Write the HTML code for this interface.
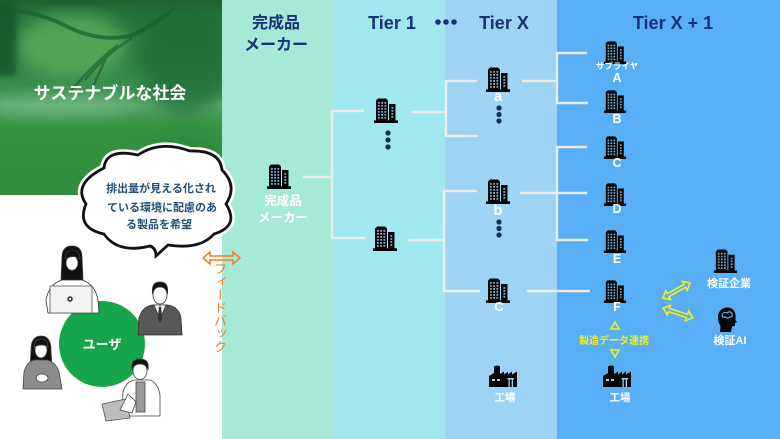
<!DOCTYPE html>
<html><head><meta charset="utf-8">
<style>
html,body{margin:0;padding:0;}
body{width:780px;height:439px;overflow:hidden;position:relative;background:#fff;font-family:"Liberation Sans","Noto Sans CJK JP",sans-serif;}
svg{position:absolute;left:0;top:0;}
.vt{position:absolute;left:212px;top:262px;width:15px;writing-mode:vertical-rl;font-size:13px;line-height:15px;color:#f07d1e;font-family:"Liberation Sans","Noto Sans CJK JP",sans-serif;}
</style></head><body>
<svg width="780" height="439" viewBox="0 0 780 439" font-family="'Liberation Sans','Noto Sans CJK JP',sans-serif">
<defs>
 <symbol id="bld" viewBox="0 0 26 26">
  <path d="M3 24V3.5L5 1.5h8l2 2V24z" fill="#060606"/>
  <rect x="16" y="7" width="6.5" height="17" fill="#060606"/>
  <rect x="1" y="23.3" width="24" height="2.7" fill="#060606"/>
  <g fill="#7fa9c8">
   <rect x="5" y="5" width="1.8" height="1.8"/><rect x="8.2" y="5" width="1.8" height="1.8"/><rect x="11.4" y="5" width="1.8" height="1.8"/>
   <rect x="5" y="8" width="1.8" height="1.8"/><rect x="8.2" y="8" width="1.8" height="1.8"/><rect x="11.4" y="8" width="1.8" height="1.8"/>
   <rect x="5" y="11" width="1.8" height="1.8"/><rect x="8.2" y="11" width="1.8" height="1.8"/><rect x="11.4" y="11" width="1.8" height="1.8"/>
   <rect x="5" y="14" width="1.8" height="1.8"/><rect x="8.2" y="14" width="1.8" height="1.8"/><rect x="11.4" y="14" width="1.8" height="1.8"/>
   <rect x="5" y="17" width="1.8" height="1.8"/><rect x="8.2" y="17" width="1.8" height="1.8"/><rect x="11.4" y="17" width="1.8" height="1.8"/>
   <rect x="5" y="20" width="1.8" height="1.8"/><rect x="8.2" y="20" width="1.8" height="1.8"/><rect x="11.4" y="20" width="1.8" height="1.8"/>
   <rect x="18.4" y="10" width="1.8" height="1.8"/><rect x="18.4" y="13" width="1.8" height="1.8"/><rect x="18.4" y="16" width="1.8" height="1.8"/><rect x="18.4" y="19" width="1.8" height="1.8"/>
  </g>
 </symbol>
 <symbol id="fac" viewBox="0 0 28 22">
  <path d="M0 22V11L5 8V1.5Q8 -0.5 11 1.5V9L15 6.5V9.5L19 6.5V9.5L23 6.5V9.5L28 6.5V22Z" fill="#060606"/>
  <rect x="3" y="14" width="3" height="2" fill="#9fd3f3"/><rect x="8" y="14" width="3" height="2" fill="#9fd3f3"/>
  <rect x="18.5" y="13" width="6.5" height="1.5" fill="#9fd3f3"/>
  <rect x="19.5" y="14.5" width="1.3" height="7.5" fill="#9fd3f3"/><rect x="22.7" y="14.5" width="1.3" height="7.5" fill="#9fd3f3"/>
 </symbol>
 <clipPath id="pc"><rect x="0" y="0" width="222" height="195"/></clipPath>
 <linearGradient id="fg" x1="0" y1="0" x2="0" y2="1">
  <stop offset="0" stop-color="#1f6e37"/>
  <stop offset="0.3" stop-color="#2c8142"/>
  <stop offset="0.46" stop-color="#3a914e"/>
  <stop offset="0.54" stop-color="#5aa86b"/>
  <stop offset="0.62" stop-color="#3a9648"/>
  <stop offset="1" stop-color="#318e3e"/>
 </linearGradient>
 <filter id="bl" x="-50%" y="-50%" width="200%" height="200%"><feGaussianBlur stdDeviation="8"/></filter>
 <filter id="bl2" x="-50%" y="-50%" width="200%" height="200%"><feGaussianBlur stdDeviation="3"/></filter>
</defs>

<!-- columns -->
<rect x="222" y="0" width="111" height="439" fill="#a7e9d7"/>
<rect x="333" y="0" width="112" height="439" fill="#a0e7f0"/>
<rect x="445" y="0" width="112" height="439" fill="#9fd3f3"/>
<rect x="557" y="0" width="223" height="439" fill="#58aff5"/>

<!-- photo -->
<g clip-path="url(#pc)">
 <rect x="0" y="0" width="222" height="195" fill="url(#fg)"/>
 <ellipse cx="72" cy="45" rx="55" ry="32" fill="#62b05e" opacity="0.75" filter="url(#bl)"/>
 <ellipse cx="185" cy="60" rx="45" ry="55" fill="#1d6d36" opacity="0.7" filter="url(#bl)"/>
 <rect x="-4" y="-4" width="20" height="80" fill="#17572a" opacity="0.85" filter="url(#bl2)"/>
 <rect x="0" y="-4" width="222" height="10" fill="#1a5e2f" opacity="0.8" filter="url(#bl2)"/>
 <ellipse cx="60" cy="106" rx="70" ry="10" fill="#7fc293" opacity="0.55" filter="url(#bl)"/>
 <path d="M10 10 Q40 12 70 28 Q100 42 130 36 Q150 28 175 8" stroke="#1a5e2e" stroke-width="4" fill="none" opacity="0.7"/>
 <path d="M132 38 Q105 55 85 80 M118 45 Q95 62 70 92 M110 50 Q100 70 92 90" stroke="#1a5e2e" stroke-width="2.5" fill="none" opacity="0.65"/>
 <rect x="0" y="125" width="222" height="70" fill="#2f8c3c" opacity="0.35"/>
 <ellipse cx="180" cy="165" rx="40" ry="25" fill="#256f33" opacity="0.4" filter="url(#bl)"/>
 <text x="110" y="99" text-anchor="middle" font-size="17" font-weight="bold" fill="#fff">サステナブルな社会</text>
</g>

<!-- headers -->
<g fill="#1b2f7a" font-weight="bold" text-anchor="middle">
 <text x="276" y="28" font-size="16">完成品</text>
 <text x="276" y="50" font-size="16">メーカー</text>
 <text x="392" y="29" font-size="18">Tier 1</text>
 <text x="504" y="29" font-size="18">Tier X</text>
 <text x="673" y="29" font-size="18">Tier X + 1</text>
</g>
<g fill="#1b2f7a"><circle cx="438" cy="22" r="2.8"/><circle cx="446" cy="22" r="2.8"/><circle cx="454" cy="22" r="2.8"/></g>

<!-- connectors -->
<g stroke="#ececec" stroke-width="2.5" fill="none">
 <path d="M303 177H332M364 111H332V238H366"/>
 <path d="M412 112H446M477 81H446V136H478"/>
 <path d="M408 240H444M477 191H444V291H480"/>
 <path d="M522 81H557M587 53H557V103H588"/>
 <path d="M520 193H587M587 147H557V240H588"/>
 <path d="M527 291H590"/>
</g>

<!-- buildings -->
<use href="#bld" x="266" y="163" width="26" height="26"/>
<use href="#bld" x="373" y="97" width="26" height="26"/>
<use href="#bld" x="372" y="225" width="26" height="26"/>
<use href="#bld" x="485" y="66" width="26" height="26"/>
<use href="#bld" x="485" y="178" width="26" height="26"/>
<use href="#bld" x="485" y="277" width="26" height="26"/>
<use href="#bld" x="603" y="40" width="24" height="24"/>
<use href="#bld" x="603" y="89" width="24" height="24"/>
<use href="#bld" x="603" y="135" width="24" height="24"/>
<use href="#bld" x="603" y="182" width="24" height="24"/>
<use href="#bld" x="603" y="229" width="24" height="24"/>
<use href="#bld" x="603" y="279" width="24" height="24"/>
<use href="#bld" x="713" y="248" width="25" height="25"/>
<use href="#fac" x="489" y="365" width="28" height="22"/>
<use href="#fac" x="603" y="365" width="28" height="22"/>

<!-- dots -->
<g fill="#17304f">
 <circle cx="388" cy="133" r="2.6"/><circle cx="388" cy="140" r="2.6"/><circle cx="388" cy="147" r="2.6"/>
 <circle cx="499" cy="108" r="2.6"/><circle cx="499" cy="114.5" r="2.6"/><circle cx="499" cy="121" r="2.6"/>
 <circle cx="499" cy="222" r="2.6"/><circle cx="499" cy="228.5" r="2.6"/><circle cx="499" cy="235" r="2.6"/>
</g>

<!-- head icon -->
<g transform="translate(716,307)">
 <path d="M2 10C2 3 8 0 12 0.5C17 1 20 5 19.5 10L19.5 13L21 15L19 16L19 19L16 19.5L15 25L4 25L4.5 19C2.5 16 2 13 2 10Z" fill="#060606"/>
 <path d="M6 8Q8 4 11 6Q14 3 16 7Q17 10 14 10Q12 12 9 10Q6 11 6 8Z" fill="none" stroke="#58aff5" stroke-width="1.2"/>
</g>

<!-- labels white -->
<g fill="#fff" font-weight="bold" text-anchor="middle">
 <text x="283" y="205" font-size="12.5">完成品</text>
 <text x="283" y="222" font-size="12.5">メーカー</text>
 <text x="498" y="101" font-size="15">a</text>
 <text x="498" y="215" font-size="15">b</text>
 <text x="499" y="311" font-size="13">C</text>
 <text x="617" y="69" font-size="8.5">サプライヤ</text>
 <text x="617" y="82" font-size="12.5">A</text>
 <text x="617" y="123" font-size="12.5">B</text>
 <text x="617" y="167" font-size="12.5">C</text>
 <text x="617" y="213" font-size="12.5">D</text>
 <text x="617" y="263" font-size="12.5">E</text>
 <text x="617" y="311" font-size="12.5">F</text>
 <text x="505" y="401" font-size="10.5">工場</text>
 <text x="620" y="401" font-size="10.5">工場</text>
 <text x="729" y="287" font-size="11">検証企業</text>
 <text x="730" y="344" font-size="11">検証AI</text>
</g>

<!-- yellow -->
<g fill="none" stroke="#f2ef1e" stroke-width="1.6" stroke-linejoin="miter">
 <polygon points="615,322 619,329 611,329"/>
 <polygon points="615,357 619,350 611,350"/>
 <polygon transform="translate(676.5,290.5) rotate(-29)" points="-15.5,0 -9.5,-5 -9.5,-1.6 9.5,-1.6 9.5,-5 15.5,0 9.5,5 9.5,1.6 -9.5,1.6 -9.5,5"/>
 <polygon transform="translate(678,313) rotate(18)" points="-15.5,0 -9.5,-5 -9.5,-1.6 9.5,-1.6 9.5,-5 15.5,0 9.5,5 9.5,1.6 -9.5,1.6 -9.5,5"/>
</g>
<text x="614" y="344" text-anchor="middle" font-size="10" font-weight="bold" fill="#f2ef1e">製造データ連携</text>

<!-- orange arrow -->
<polygon points="203,258 210,252 210,256 233,256 233,252 240,258 233,264 233,260 210,260 210,264" fill="none" stroke="#f07d1e" stroke-width="1.5"/>

<!-- cloud -->
<path d="M104 168Q106 148 138 155Q160 140 190 151Q220 150 222 170Q238 186 226 204Q240 226 214 234Q200 250 168 245L156 256Q156 248 150 246Q118 254 104 234Q76 228 86 204Q72 184 104 168Z" fill="#fff" stroke="#fff" stroke-width="8"/>
<path d="M104 168Q106 148 138 155Q160 140 190 151Q220 150 222 170Q238 186 226 204Q240 226 214 234Q200 250 168 245L156 256Q156 248 150 246Q118 254 104 234Q76 228 86 204Q72 184 104 168Z" fill="#fff" stroke="#111" stroke-width="2.8"/>
<g fill="#1f4e79" font-weight="bold" font-size="11" text-anchor="middle">
 <text x="161" y="192">排出量が見える化され</text>
 <text x="162" y="211">ている環境に配慮のあ</text>
 <text x="159" y="228">る製品を希望</text>
</g>

<!-- users circle -->
<circle cx="102" cy="344" r="43" fill="#17a54b"/>
<text x="102" y="349" text-anchor="middle" font-size="13" font-weight="bold" fill="#fff">ユーザ</text>

<!-- woman 1 with laptop -->
<g stroke="#333" stroke-width="0.8">
 <path d="M62 258Q62 246 72 246Q82 246 82 258L83 281L61 281Z" fill="#111"/>
 <path d="M48 313L46 300Q49 284 62 280L82 280Q95 284 98 300L99 313Z" fill="#fff"/>
 <ellipse cx="72" cy="263" rx="6" ry="7.5" fill="#fff"/>
 <path d="M65 259Q66 250 73 250Q80 251 80 259Q74 254 65 259Z" fill="#111"/>
 <rect x="50" y="286" width="42" height="27" fill="#f3f3f3" stroke="#555"/>
 <circle cx="70" cy="299" r="2" fill="none" stroke="#333" stroke-width="1.5"/>
</g>

<!-- man in suit -->
<g stroke="#333" stroke-width="0.8">
 <path d="M138 335L139 318Q142 307 152 305L168 305Q179 307 181 318L182 335Z" fill="#585858"/>
 <path d="M154 305L160 319L166 305Z" fill="#fff"/>
 <path d="M159.2 307L160.8 307L161.6 319L160 322L158.4 319Z" fill="#333"/>
 <ellipse cx="160" cy="295" rx="7" ry="9" fill="#fff"/>
 <path d="M152.5 294Q151 282 160 282Q169 282 167.5 294Q166 287 160 287Q154 287 152.5 294Z" fill="#111"/>
</g>

<!-- woman 2 -->
<g stroke="#444" stroke-width="0.8">
 <path d="M31 350Q31 336 41 336Q51 336 51 350L52 368L30 368Z" fill="#111"/>
 <path d="M23 389L24 372Q27 361 35 360L47 360Q56 362 59 372L62 389Z" fill="#8c8c8c"/>
 <ellipse cx="41" cy="350" rx="6" ry="8" fill="#fff"/>
 <path d="M34 347Q35 339 42 339Q48 340 48 347Q42 343 34 347Z" fill="#111"/>
 <ellipse cx="42" cy="378" rx="6" ry="4" fill="#fff"/>
</g>

<!-- man 2 with laptop -->
<g stroke="#444" stroke-width="0.8">
 <path d="M122 416L123 392Q126 381 135 380L150 380Q158 383 160 395L160 416Z" fill="#fff"/>
 <rect x="136" y="382" width="9" height="30" fill="#9a9a9a"/>
 <polygon points="102,404 126,399 130,418 106,421" fill="#bdbdbd" stroke="#555"/>
 <path d="M128 394L120 410L132 413L136 402Z" fill="#fff"/>
 <ellipse cx="140" cy="371" rx="7" ry="8.5" fill="#fff"/>
 <path d="M132 370Q130 359 140 359Q150 359 148 370Q146 364 140 364Q134 364 132 370Z" fill="#111"/>
</g>
</svg>
<div class="vt">フィードバック</div>
</body></html>
